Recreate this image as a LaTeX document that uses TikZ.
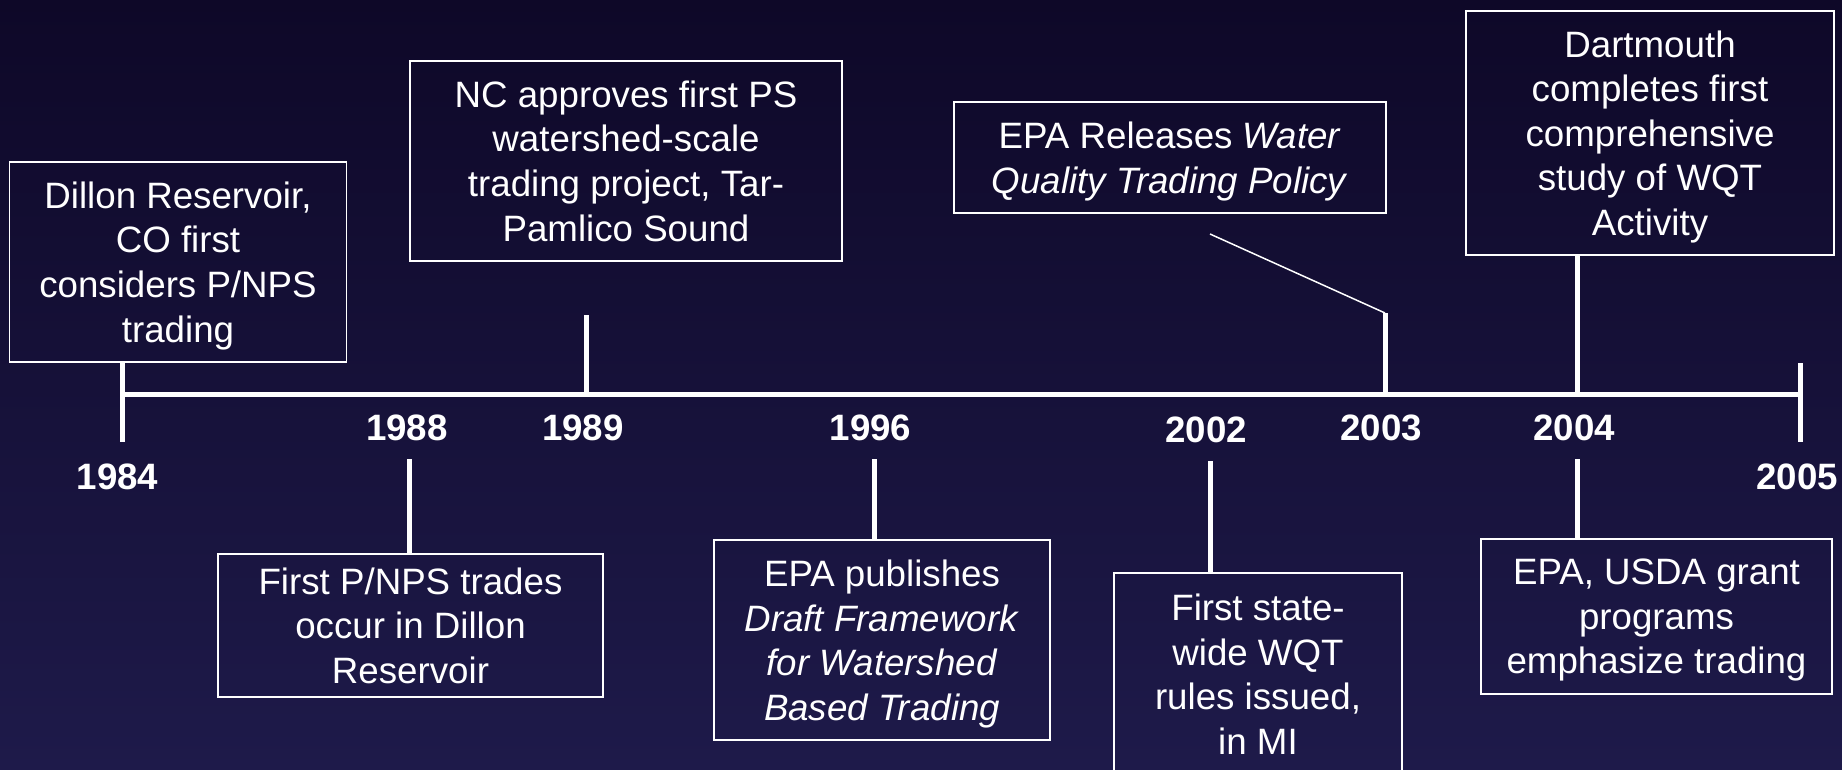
\documentclass[tikz,border=0pt]{standalone}
\usepackage{fontspec}
\setmainfont{Liberation Sans}
\usepackage{xcolor}
\usetikzlibrary{positioning, calc}
\definecolor{bgtop}{HTML}{0E0828}
\definecolor{bgbottom}{HTML}{1E1A4A}

\begin{document}
\begin{tikzpicture}[x=1pt, y=-1pt,
    event/.style={draw=white, line width=1.5pt, text=white, align=center,
      inner sep=0pt, text depth=0pt, font=\fontsize{36.7}{44.6}\selectfont},
    year/.style={text=white, inner sep=0pt, font=\bfseries\fontsize{36.7}{44.6}\selectfont},
    tick/.style={draw=white, line width=5pt}]
      \shade [top color=bgtop, bottom color=bgbottom] (0,0) rectangle (1842,770);
      \useasboundingbox (0,0) rectangle (1842,770);

      % events above the line
      \node [event, minimum width=337, minimum height=200] (dillon) at (178,262)
        {Dillon Reservoir,\\CO first\\considers P/NPS\\trading};
      \node [event, minimum width=432, minimum height=200] (ncproject) at (626,161)
        {NC approves first PS\\watershed-scale\\trading project, Tar-\\Pamlico Sound};
      \node [event, minimum width=432, minimum height=111] (policy) at (1170,157.5)
        {EPA Releases \textit{Water}\\\textit{Quality Trading Policy}};
      \node [event, minimum width=368, minimum height=244] (dartmouth) at (1650,133)
        {Dartmouth\\completes first\\comprehensive\\study of WQT\\Activity};

      % events below the line
      \node [event, minimum width=385, minimum height=143] (firsttrades) at (410.5,625.5)
        {First P/NPS trades\\occur in Dillon\\Reservoir};
      \node [event, minimum width=336, minimum height=200] (framework) at (882,640)
        {EPA publishes\\\textit{Draft Framework}\\\textit{for Watershed}\\\textit{Based Trading}};
      \node [event, minimum width=288, minimum height=202] (statewide) at (1258,674)
        {First state-\\wide WQT\\rules issued,\\in MI};
      \node [event, minimum width=351, minimum height=155] (grants) at (1656.5,616.5)
        {EPA, USDA grant\\programs\\emphasize trading};

      % the time line
      \coordinate (t84) at (122,394);
      \coordinate (t88) at (409.5,394);
      \coordinate (t89) at (586,394);
      \coordinate (t96) at (874,394);
      \coordinate (t02) at (1210,394);
      \coordinate (t03) at (1385,394);
      \coordinate (t04) at (1577.5,394);
      \coordinate (t05) at (1800,394);
      \draw [tick] (t84) -- (t05);

      \draw [tick] (dillon.south -| t84) -- ($(t84)+(0,48)$);
      \draw [tick] ($(t05)+(0,-31)$) -- ($(t05)+(0,48)$);
      \draw [tick] ($(t89)+(0,-79)$) -- (t89);
      \draw [tick] ($(t03)+(0,-81)$) coordinate (t03top) -- (t03);
      \draw [tick] (dartmouth.south -| t04) -- (t04);
      \draw [tick] ($(t88)+(0,65)$) -- (firsttrades.north -| t88);
      \draw [tick] ($(t96)+(0,65)$) -- (framework.north -| t96);
      \draw [tick] ($(t02)+(0,67)$) -- (statewide.north -| t02);
      \draw [tick] ($(t04)+(0,65)$) -- (grants.north -| t04);

      \coordinate (policyend) at (1210,234);
      \draw [white, line width=1.5pt] (policyend) -- (t03top);

      % years
      \node [year] (y84) at (117.5,477) {1984};
      \node [year] (y88) at (407,428) {1988};
      \node [year] (y89) at (583,428) {1989};
      \node [year] (y96) at (870.5,428) {1996};
      \node [year] (y02) at (1206,430) {2002};
      \node [year] (y03) at (1381,428) {2003};
      \node [year] (y04) at (1574,428) {2004};
      \node [year] (y05) at (1797,477) {2005};
    \end{tikzpicture}
\end{document}
